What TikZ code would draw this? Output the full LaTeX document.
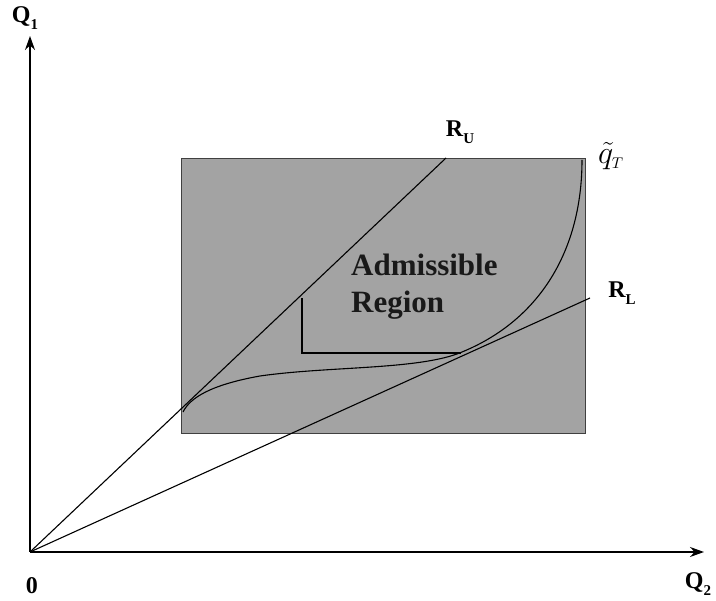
\documentclass[tikz,border=0pt]{standalone}
\usepackage{fontspec}
\setmainfont{Liberation Serif}
\usetikzlibrary{arrows.meta}
\newcommand\lsub[2]{#1\raisebox{-0.28em}{\fontsize{15}{18}\selectfont #2}}
\begin{document}
\begin{tikzpicture}[x=1pt,y=-1pt,
  axis/.style={line width=1.4pt,-{Stealth[length=14pt,width=10pt]}},
  ray/.style={line width=1.1pt},
  lbl/.style={font=\bfseries\fontsize{24}{28}\selectfont, inner sep=0pt},
  adm/.style={anchor=base west, inner sep=0pt, font=\bfseries\fontsize{31}{36}\selectfont, text=black!90},
  region/.style={fill=black!36, draw=black!75, line width=1.1pt}]
\useasboundingbox (0,0) rectangle (716,601);
\coordinate (O) at (30,552);
\coordinate (Ytip) at (30,36);
\coordinate (Xtip) at (704,552);
\coordinate (RU) at (446,158);
\coordinate (RL) at (590,298);
% admissible region
\node[region, minimum width=404pt, minimum height=275pt, inner sep=0pt, anchor=north west] (box) at (181,158) {};
% inner corner lines
\coordinate (c1) at (302,298);
\coordinate (c2) at (302,353);
\coordinate (c3) at (461,353);
\draw[ray] (c1) -- (c2) -- (c3);
% curve q_T
\coordinate (s) at (183,412);
\coordinate (m) at (260,376);
\coordinate (t) at (462,352);
\coordinate (e) at (582,160);
\draw[ray] (s) .. controls (190,398) and (210,385) .. (m)
  .. controls (330,366) and (420,370) .. (t)
  .. controls (540,320) and (582,250) .. (e);
% rays
\draw[ray] (O) -- (RU);
\draw[ray] (O) -- (RL);
% axes
\draw[axis] (O) -- (Ytip);
\draw[axis] (O) -- (Xtip);
% labels
\node[lbl] (q1) at (25,18) {\lsub{Q}{1}};
\node[lbl] (q2) at (698,584) {\lsub{Q}{2}};
\node[lbl] (zero) at (32,586) {0};
\node[lbl] (ru) at (460,132) {\lsub{R}{U}};
\node[lbl] (rl) at (622,293) {\lsub{R}{L}};
\node[inner sep=0pt, font=\fontsize{20}{24}\selectfont] (qt) at (611,156) {\scalebox{1.55}{$\tilde{q}_{\scriptscriptstyle T}$}};
\node[adm] (adm1) at (351,276) {Admissible};
\node[adm] (adm2) at (351,313) {Region};
\end{tikzpicture}
\end{document}
